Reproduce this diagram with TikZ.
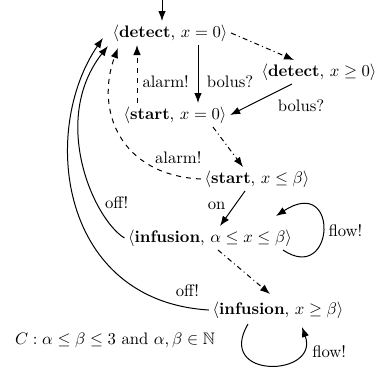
\documentclass[tikz,border=0pt]{standalone}
\usepackage{amssymb}
\usetikzlibrary{arrows.meta,calc}
\begin{document}
\begin{tikzpicture}[x=0.6pt,y=-0.6pt,
  st/.style={inner sep=2pt},
  arr/.style={-{Latex[length=6pt,width=4.5pt]}, line width=0.6pt},
  lbl/.style={inner sep=1pt},
  dd/.style={dash pattern=on 3pt off 2pt on 0.6pt off 2pt}]
\useasboundingbox (0,0) rectangle (378,369);
\node[st] (d0) at (170,33) {$\langle$\textbf{detect}, $x=0\rangle$};
\node[st] (dg) at (319,72) {$\langle$\textbf{detect}, $x\geq 0\rangle$};
\node[st] (s0) at (175,115) {$\langle$\textbf{start}, $x=0\rangle$};
\node[st] (sl) at (257,179) {$\langle$\textbf{start}, $x\leq\beta\rangle$};
\node[st] (ia) at (210,238) {$\langle$\textbf{infusion}, $\alpha\leq x\leq\beta\rangle$};
\node[st] (ib) at (278,310) {$\langle$\textbf{infusion}, $x\geq\beta\rangle$};
\node[st] (cc) at (115,340) {$C:\alpha\leq\beta\leq 3$ and $\alpha,\beta\in\mathbb{N}$};
\coordinate (init) at (162,0);

\draw[arr] (init) -- (init |- d0.north);
\draw[arr] ([shift={(28,0)}]d0.south) -- ([shift={(23,0)}]s0.north)
  node[lbl,pos=0.64,right=4pt] (l1) {bolus?};
\draw[arr,dashed] ([shift={(-38,0)}]s0.north) -- ([shift={(-33,0)}]d0.south)
  node[lbl,pos=0.37,right=2pt] (l2) {alarm!};
\draw[arr,dd] (d0.east) -- ([shift={(-25,0)}]dg.north);
\draw[arr] ([shift={(-27,0)}]dg.south) -- (s0.east)
  node[lbl,pos=0,anchor=north,xshift=5.4pt,yshift=-8pt] (l3) {bolus?};
\draw[arr,dd] ([shift={(38,0)}]s0.south) -- ([shift={(-14,0)}]sl.north);
\draw[arr,dashed] (sl.west) .. controls +(-81,-4) and +(-23,62) .. ([shift={(9,3)}]d0.south west)
  node[lbl,pos=0.1,above=6pt] (l4) {alarm!};
\draw[arr] ([shift={(-12,0)}]sl.south) -- ([shift={(10,0)}]ia.north)
  node[lbl,pos=0.43,left=4pt] (l6) {on};
\draw[arr] ([shift={(73,12)}]ia.center) .. controls +(52,35) and +(64,-42) .. ([shift={(66,-22)}]ia.center)
  node[lbl,pos=0.5,right=2pt] (l5) {flow!};
\draw[arr] (ia.west) .. controls +(-31,-19) and +(-58,74) .. ([shift={(-1,1)}]d0.south west)
  node[lbl,pos=0.3,right=4pt] (l7) {off!};
\draw[arr] (ib.west) .. controls +(-150,-9) and +(-63,92) .. ([shift={(-6,-7)}]d0.south west)
  node[lbl,pos=0.05,above=5pt] (l8) {off!};
\draw[arr,dd] ([shift={(8,0)}]ia.south) -- ([shift={(-8,-4)}]ib.north);
\draw[arr] ([shift={(-30,2)}]ib.south) .. controls +(-33,56) and +(18,50) .. ([shift={(24,5)}]ib.south)
  node[lbl,pos=0.8,right=6pt] (l9) {flow!};
\end{tikzpicture}
\end{document}
